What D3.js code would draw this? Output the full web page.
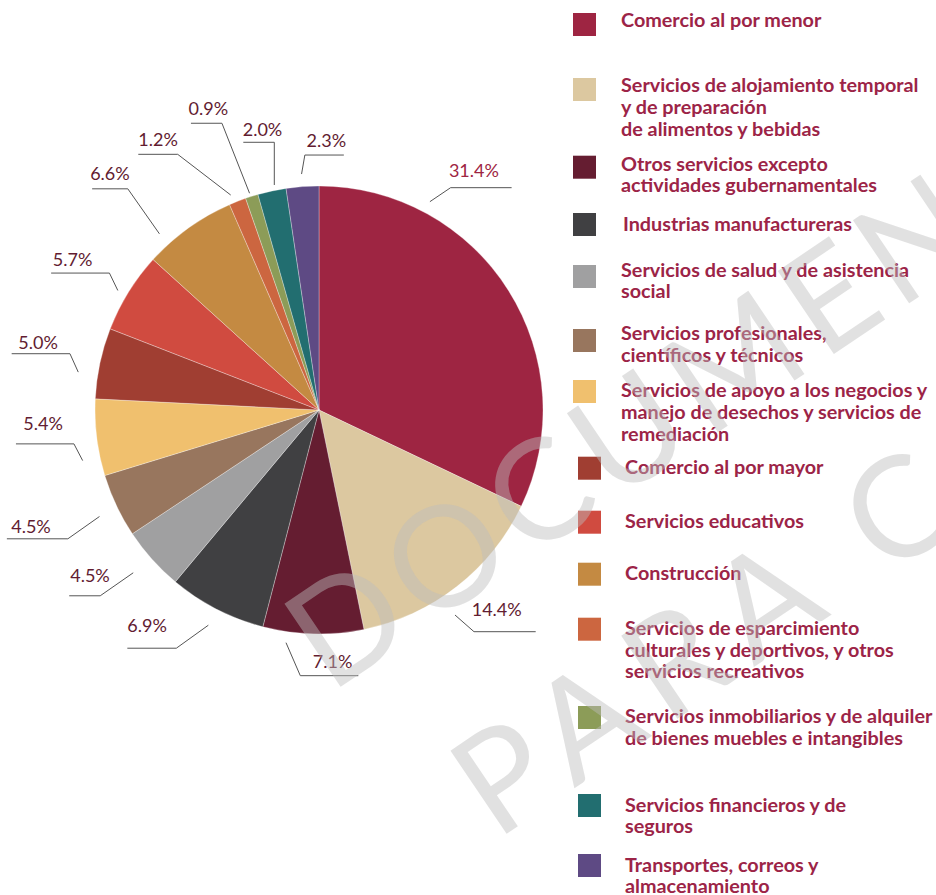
<!DOCTYPE html>
<html>
<head>
<meta charset="utf-8">
<script src="https://cdn.jsdelivr.net/npm/d3@7/dist/d3.min.js"></script>
<style>
  html, body { margin: 0; padding: 0; background: #ffffff; }
  svg { display: block; }
</style>
</head>
<body>
<svg id="chart" width="936" height="895"></svg>
<script>
// ---------------- DATA ----------------
const categories = [
  "Comercio al por menor",
  "Servicios de alojamiento temporal y de preparación de alimentos y bebidas",
  "Otros servicios excepto actividades gubernamentales",
  "Industrias manufactureras",
  "Servicios de salud y de asistencia social",
  "Servicios profesionales, científicos y técnicos",
  "Servicios de apoyo a los negocios y manejo de desechos y servicios de remediación",
  "Comercio al por mayor",
  "Servicios educativos",
  "Construcción",
  "Servicios de esparcimiento culturales y deportivos, y otros servicios recreativos",
  "Servicios inmobiliarios y de alquiler de bienes muebles e intangibles",
  "Servicios financieros y de seguros",
  "Transportes, correos y almacenamiento"
];
const legendLines = [
  ["Comercio al por menor"],
  ["Servicios de alojamiento temporal", "y de preparación", "de alimentos y bebidas"],
  ["Otros servicios excepto", "actividades gubernamentales"],
  ["Industrias manufactureras"],
  ["Servicios de salud y de asistencia", "social"],
  ["Servicios profesionales,", "científicos y técnicos"],
  ["Servicios de apoyo a los negocios y", "manejo de desechos y servicios de", "remediación"],
  ["Comercio al por mayor"],
  ["Servicios educativos"],
  ["Construcción"],
  ["Servicios de esparcimiento", "culturales y deportivos, y otros", "servicios recreativos"],
  ["Servicios inmobiliarios y de alquiler", "de bienes muebles e intangibles"],
  ["Servicios financieros y de", "seguros"],
  ["Transportes, correos y", "almacenamiento"]
];
const values = [31.4, 14.4, 7.1, 6.9, 4.5, 4.5, 5.4, 5.0, 5.7, 6.6, 1.2, 0.9, 2.0, 2.3];
const valueLabels = ["31.4%", "14.4%", "7.1%", "6.9%", "4.5%", "4.5%", "5.4%", "5.0%", "5.7%", "6.6%", "1.2%", "0.9%", "2.0%", "2.3%"];
const colors = ["#9e2542", "#dcc8a0", "#651d31", "#404042", "#a0a0a1", "#98765e", "#f0c06e",
                "#a03e32", "#d04b40", "#c48a42", "#cc6640", "#8c9c58", "#226e70", "#5e4a84"];
const watermarkLines = ["DOCUMENTO", "PARA CONSULTA"];

// ---------------- LAYOUT ----------------
const cx = 319, cy = 410, R = 224;
// leader layout: da = angle offset from slice middle (deg), r = start radius,
// (ex,ey) = elbow offset from start, h = horizontal run, (tx,ty) = text offset from left end of run
const labelLayout = [
  {da: -29.7, r: 236, ex: 20.7, ey: -14,  h: 61,  tx: -1.7, ty: -11},
  {da: 4.5,   r: 246, ex: 19,   ey: 16.7, h: 61.7,tx: -2.3, ty: -15.7},
  {da: 6.6,   r: 235, ex: 14.3, ey: 33,   h: 58,  tx: 12.5, ty: -8},
  {da: 0,     r: 242, ex: -32,  ey: 23,   h: -49, tx: 0,    ty: -16},
  {da: 0.6,   r: 247, ex: -33,  ey: 23,   h: -31, tx: 1,    ty: -14},
  {da: -0.6,  r: 244, ex: -31.6,ey: 22.3, h: -61, tx: 4.3,  ty: -6},
  {da: -5,    r: 241.7,ex: -8.7,ey: -16.7,h: -58, tx: 7.3,  ty: -14},
  {da: -3.1,  r: 243.7,ex: -8.3,ey: -18.4,h: -58.3,tx: 6.6, ty: -4.3},
  {da: -1,    r: 234, ex: -8.4, ey: -17.4,h: -58.3,tx: 1.7, ty: -7.3},
  {da: -6.5,  r: 237.7,ex: -31.6,ey: -45, h: -35.7,tx: -2,  ty: -9},
  {da: -1,    r: 232.4,ex: -53, ey: -40.7,h: -39.4,tx: 0,   ty: -8.3},
  {da: -0.3,  r: 227.6,ex: -27.6,ey: -70, h: -31, tx: -2.4, ty: -8.3},
  {da: 0.9,   r: 229.4,ex: 0,   ey: -42.7,h: -31, tx: -0.6, ty: -6.3},
  {da: 0,     r: 236.6,ex: 3.3, ey: -19,  h: 39,  tx: 1.7,  ty: -8}
];
const legendSquareX = [573, 573, 573, 573, 573, 573, 573, 578, 578, 578, 578, 578, 578, 578];
const legendTextX   = [621, 621, 621, 623, 621, 621, 621, 625, 625, 625, 625, 625, 625, 625];
const legendSquareY = [13, 78, 155.7, 213, 265, 329, 380, 456.7, 510.7, 562.7, 617.7, 706, 794, 854];
const legendTextY   = [27.3, 92.3, 170.7, 231, 276.7, 340, 397.3, 474, 528, 580, 635, 723.3, 811.7, 871.7];
const legendLineH = 21.7;

// ---------------- DRAW ----------------
const svg = d3.select("#chart");
svg.append("rect").attr("width", 936).attr("height", 895).attr("fill", "#ffffff");

const pie = d3.pie().sort(null).value(d => d)(values);
const arc = d3.arc().innerRadius(0).outerRadius(R);

const g = svg.append("g").attr("transform", `translate(${cx},${cy})`);
g.selectAll("path.slice")
  .data(pie)
  .join("path")
  .attr("class", "slice")
  .attr("d", arc)
  .attr("fill", (d, i) => colors[i])
  .attr("stroke", "#ffffff")
  .attr("stroke-opacity", 0.5)
  .attr("stroke-width", 0.6);

// leader lines and labels
const labels = g.append("g");
pie.forEach((d, i) => {
  const L = labelLayout[i];
  const a = (d.startAngle + d.endAngle) / 2 + L.da * Math.PI / 180;
  const x0 = L.r * Math.sin(a), y0 = -L.r * Math.cos(a);
  const x1 = x0 + L.ex, y1 = y0 + L.ey;
  const x2 = x1 + L.h;
  labels.append("path")
    .attr("d", d3.line()([[x0, y0], [x1, y1], [x2, y1]]))
    .attr("fill", "none")
    .attr("stroke", "#555555")
    .attr("stroke-width", 1);
  const left = Math.min(x1, x2);
  labels.append("text")
    .attr("x", left + L.tx)
    .attr("y", y1 + L.ty)
    .attr("font-family", "Lato, 'Open Sans', sans-serif")
    .attr("font-weight", 400)
    .attr("font-size", 18)
    .attr("fill", i === 0 ? "#9e2542" : "#621c31")
    .text(valueLabels[i]);
});

// legend
const legend = svg.append("g");
legendLines.forEach((lines, i) => {
  legend.append("rect")
    .attr("x", legendSquareX[i]).attr("y", legendSquareY[i])
    .attr("width", 23).attr("height", 23)
    .attr("fill", colors[i]);
  const t = legend.append("text")
    .attr("x", legendTextX[i]).attr("y", legendTextY[i])
    .attr("font-family", "Lato, 'Open Sans', sans-serif")
    .attr("font-weight", 700)
    .attr("font-size", 19.8)
    .attr("fill", "#9c2447");
  lines.forEach((ln, j) => {
    t.append("tspan").attr("x", legendTextX[i]).attr("dy", j === 0 ? 0 : legendLineH).text(ln);
  });
});

// watermark
const wm = svg.append("g").attr("pointer-events", "none");
const wmPos = [[330, 694], [496, 841]];
const wmSpacing = [10, 17];
watermarkLines.forEach((w, i) => {
  wm.append("text")
    .attr("transform", `translate(${wmPos[i][0]},${wmPos[i][1]}) rotate(-34)`)
    .attr("font-family", "Lato, sans-serif")
    .attr("font-weight", 400)
    .attr("font-size", 140)
    .attr("letter-spacing", wmSpacing[i])
    .attr("fill", "#bdbdbd")
    .attr("fill-opacity", 0.45)
    .text(w);
});
</script>
</body>
</html>
